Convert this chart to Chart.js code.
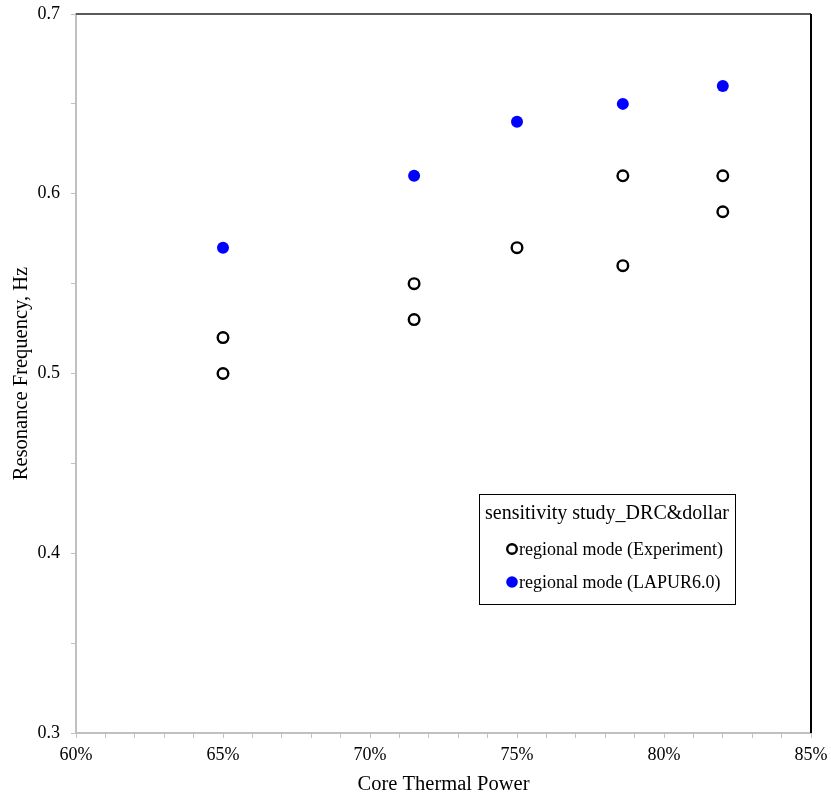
<!DOCTYPE html>
<html><head><meta charset="utf-8">
<script src="https://cdn.jsdelivr.net/npm/chart.js@4.4.1/dist/chart.umd.min.js"></script>
<style>html,body{margin:0;padding:0;background:#fff}#wrap{width:831px;height:800px}</style>
</head><body><div id="wrap"><canvas id="c" width="831" height="800"></canvas></div>
<script>
const powerExp = [65, 65, 71.5, 71.5, 75, 78.6, 78.6, 82, 82];
const freqExp = [0.52, 0.50, 0.55, 0.53, 0.57, 0.61, 0.56, 0.61, 0.59];
const powerLapur = [65, 71.5, 75, 78.6, 82];
const freqLapur = [0.57, 0.61, 0.64, 0.65, 0.66];
const seriesNames = ['regional mode (Experiment)', 'regional mode (LAPUR6.0)'];
const legendTitle = 'sensitivity study_DRC&dollar';
const xTitle = 'Core Thermal Power';
const yTitle = 'Resonance Frequency, Hz';

const FONT = '"Liberation Serif", "Times New Roman", serif';

const framePlugin = {
  id: 'frame',
  afterDraw(chart) {
    const {ctx, chartArea: a} = chart;
    ctx.save();
    ctx.lineWidth = 2;
    ctx.strokeStyle = '#595959';
    ctx.beginPath(); ctx.moveTo(a.left, a.top); ctx.lineTo(a.right, a.top); ctx.stroke();
    ctx.strokeStyle = '#000';
    ctx.beginPath(); ctx.moveTo(a.right, a.top); ctx.lineTo(a.right, a.bottom); ctx.stroke();
    // legend box
    const bx = 479, by = 494, bw = 256, bh = 110;
    ctx.fillStyle = '#fff';
    ctx.fillRect(bx, by, bw, bh);
    ctx.lineWidth = 1;
    ctx.strokeStyle = '#000';
    ctx.strokeRect(bx + 0.5, by + 0.5, bw, bh);
    ctx.fillStyle = '#000';
    ctx.font = '20px ' + FONT;
    ctx.textAlign = 'center';
    ctx.textBaseline = 'middle';
    ctx.fillText(legendTitle, bx + bw / 2, by + 20);
    ctx.font = '18px ' + FONT;
    ctx.textAlign = 'left';
    const rows = [by + 55, by + 88];
    chart.data.datasets.forEach((ds, i) => {
      const y = rows[i];
      ctx.beginPath();
      if (i === 0) { ctx.arc(512, y, 4.8, 0, Math.PI * 2); ctx.lineWidth = 2.4; ctx.strokeStyle = ds.pointBorderColor; ctx.stroke(); }
      else { ctx.arc(512, y, 5.8, 0, Math.PI * 2); ctx.fillStyle = ds.pointBackgroundColor; ctx.fill(); }
      ctx.fillStyle = '#000';
      ctx.fillText(ds.label, 519, y + 1);
    });
    ctx.restore();
  }
};

new Chart(document.getElementById('c'), {
  type: 'scatter',
  data: {
    datasets: [
      {
        label: seriesNames[0],
        data: powerExp.map((x, i) => ({x, y: freqExp[i]})),
        pointRadius: 5.3, pointHoverRadius: 5.3,
        pointBorderWidth: 2.4,
        pointBorderColor: '#000', pointBackgroundColor: 'rgba(0,0,0,0)'
      },
      {
        label: seriesNames[1],
        data: powerLapur.map((x, i) => ({x, y: freqLapur[i]})),
        pointRadius: 6, pointHoverRadius: 6,
        pointBorderWidth: 0,
        pointBorderColor: '#0000ff', pointBackgroundColor: '#0000ff'
      }
    ]
  },
  options: {
    responsive: false,
    animation: false,
    events: [],
    layout: {padding: {top: 14, right: 20, left: 0, bottom: 0}},
    plugins: {legend: {display: false}, tooltip: {enabled: false}},
    scales: {
      x: {
        type: 'linear', min: 60, max: 85,
        afterFit(s) { s.height = 67; s.paddingLeft = 0; s.paddingRight = 0; },
        border: {display: true, color: '#c0c0c0', width: 2},
        grid: {drawOnChartArea: false, drawTicks: true, tickLength: 5, color: '#c0c0c0', lineWidth: 1},
        ticks: {
          stepSize: 1, autoSkip: false, maxRotation: 0, padding: 6,
          color: '#000', font: {family: FONT, size: 18},
          callback: v => (Math.round(v) % 5 === 0 ? Math.round(v) + '%' : '')
        },
        title: {display: true, text: xTitle, color: '#000', font: {family: FONT, size: 20.5}, padding: {top: 0, bottom: 3}}
      },
      y: {
        type: 'linear', min: 0.3, max: 0.7,
        afterFit(s) { s.width = 76; s.paddingTop = 0; s.paddingBottom = 0; },
        border: {display: true, color: '#c0c0c0', width: 2},
        grid: {drawOnChartArea: false, drawTicks: true, tickLength: 5, color: '#c0c0c0', lineWidth: 1},
        ticks: {
          stepSize: 0.05, autoSkip: false, padding: 11,
          color: '#000', font: {family: FONT, size: 18},
          callback: v => (Math.round(v * 100) % 10 === 0 ? (Math.round(v * 10) / 10).toFixed(1) : '')
        },
        title: {display: true, text: yTitle, color: '#000', font: {family: FONT, size: 20.5}, padding: {top: 9, bottom: 0}}
      }
    }
  },
  plugins: [framePlugin]
});
</script>
</body></html>
